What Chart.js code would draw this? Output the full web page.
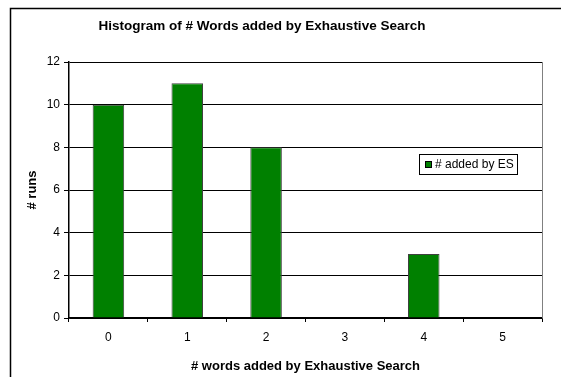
<!DOCTYPE html>
<html>
<head>
<meta charset="utf-8">
<title>Histogram of # Words added by Exhaustive Search</title>
<script src="https://cdn.jsdelivr.net/npm/chart.js@4"></script>
<style>
  html, body { margin: 0; padding: 0; background: #fff; }
  #wrap { width: 561px; height: 377px; }
</style>
</head>
<body>
<div id="wrap"><canvas id="esHistogram" width="561" height="377"></canvas></div>
<script>
// data
const categories = ["0", "1", "2", "3", "4", "5"];
const runs = [10, 11, 8, 0, 3, 0];
const seriesName = "# added by ES";
const chartTitle = "Histogram of # Words added by Exhaustive Search";
const xTitle = "# words added by Exhaustive Search";
const yTitle = "# runs";
const yTicks = { min: 0, max: 12, step: 2 };

const FONT = "Arial, 'Liberation Sans', sans-serif";

// frame, title, plot border and boxed legend, drawn the Excel way
const excelBits = {
  id: "excelBits",
  beforeDraw(chart) {
    const ctx = chart.ctx;
    ctx.save();
    ctx.fillStyle = "#fff";
    ctx.fillRect(0, 0, chart.width, chart.height);
    ctx.strokeStyle = "#000";
    ctx.lineWidth = 1.5;
    ctx.beginPath();
    ctx.moveTo(10.5, chart.height);
    ctx.lineTo(10.5, 8.5);
    ctx.lineTo(chart.width, 8.5);
    ctx.stroke();
    ctx.restore();
  },
  afterDraw(chart) {
    const ctx = chart.ctx;
    const a = chart.chartArea;
    ctx.save();
    // plot area right edge
    ctx.strokeStyle = "#808080";
    ctx.lineWidth = 1;
    ctx.beginPath();
    ctx.moveTo(Math.round(a.right) + 0.5, a.top);
    ctx.lineTo(Math.round(a.right) + 0.5, a.bottom);
    ctx.stroke();

    // title
    ctx.fillStyle = "#000";
    ctx.font = "bold 13.5px " + FONT;
    ctx.textAlign = "center";
    ctx.textBaseline = "middle";
    ctx.fillText(chartTitle, 262, 26);

    // legend box
    const ds = chart.data.datasets[0];
    ctx.strokeStyle = "#000";
    ctx.strokeRect(419.5, 154.5, 98, 20);
    ctx.fillStyle = ds.backgroundColor;
    ctx.fillRect(425, 161, 7, 7);
    ctx.strokeRect(425.5, 161.5, 6, 6);
    ctx.fillStyle = "#000";
    ctx.font = "12px " + FONT;
    ctx.textAlign = "left";
    ctx.fillText(ds.label, 435, 165);
    ctx.restore();
  }
};

new Chart("esHistogram", {
  type: "bar",
  data: {
    labels: categories,
    datasets: [
      {
        label: seriesName,
        data: runs,
        backgroundColor: "#008000",
        borderColor: "#404040",
        borderWidth: 1,
        categoryPercentage: 1.0,
        barPercentage: 0.4
      }
    ]
  },
  options: {
    responsive: false,
    animation: false,
    devicePixelRatio: 1,
    layout: {
      padding: { left: 0, right: 19, top: 62, bottom: 0 }
    },
    plugins: {
      legend: { display: false },
      title: { display: false },
      tooltip: { enabled: false }
    },
    scales: {
      x: {
        grid: {
          offset: true,
          drawOnChartArea: false,
          drawTicks: true,
          tickLength: 4,
          color: "#000"
        },
        border: { display: true, color: "#000", width: 1.5 },
        ticks: {
          color: "#000",
          font: { family: FONT, size: 12 },
          padding: 8,
          maxRotation: 0
        },
        title: {
          display: true,
          text: xTitle,
          color: "#000",
          font: { family: FONT, size: 13, weight: "bold" },
          padding: { top: 0, bottom: 3 }
        },
        afterFit(scale) { scale.height = 59; }
      },
      y: {
        min: yTicks.min,
        max: yTicks.max,
        grid: {
          color: "#000",
          drawTicks: true,
          tickLength: 5,
          lineWidth: 1
        },
        border: { display: true, color: "#000", width: 1.5 },
        ticks: {
          stepSize: yTicks.step,
          color: "#000",
          font: { family: FONT, size: 12 },
          padding: 4
        },
        title: {
          display: true,
          text: yTitle,
          color: "#000",
          font: { family: FONT, size: 13, weight: "bold" },
          padding: { top: 25, bottom: 0 }
        },
        afterFit(scale) { scale.width = 69; }
      }
    }
  },
  plugins: [excelBits]
});
</script>
</body>
</html>
